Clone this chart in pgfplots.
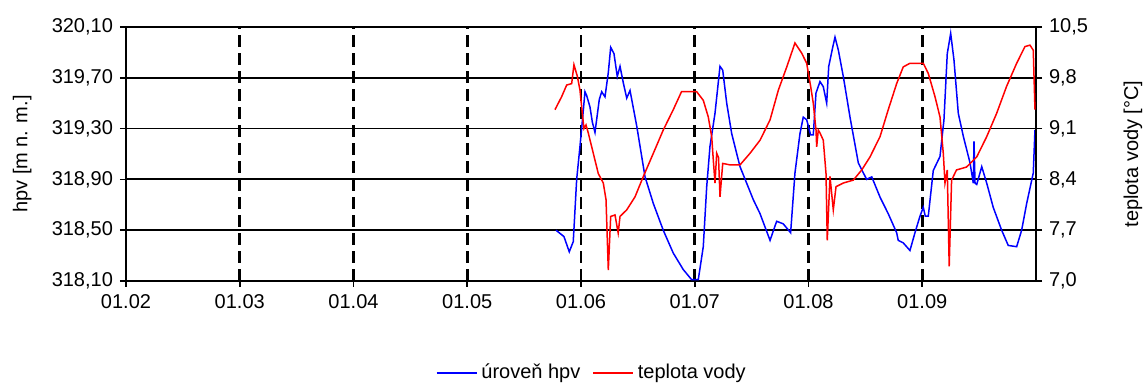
\documentclass[border=0pt]{standalone}
\usepackage{fontspec}
\setmainfont{Liberation Sans}
\usepackage{pgfplots}
\pgfplotsset{compat=1.18}

% groundwater level [m a.s.l.] vs. month index (0 = 01.02)
\pgfplotstableread{
m      h
3.780  318.50
3.850  318.45
3.897  318.33
3.932  318.41
3.962  318.90
3.991  319.16
4.015  319.39
4.035  319.59
4.050  319.56
4.079  319.47
4.100  319.35
4.123  319.27
4.161  319.53
4.182  319.59
4.211  319.55
4.240  319.74
4.261  319.94
4.290  319.89
4.319  319.71
4.343  319.79
4.372  319.66
4.402  319.54
4.431  319.60
4.490  319.32
4.563  318.92
4.636  318.71
4.723  318.50
4.811  318.32
4.899  318.19
4.973  318.11
5.031  318.11
5.075  318.37
5.105  318.84
5.134  319.16
5.178  319.42
5.222  319.79
5.246  319.76
5.281  319.50
5.325  319.26
5.398  319.00
5.515  318.74
5.574  318.63
5.662  318.42
5.720  318.57
5.778  318.55
5.843  318.48
5.881  318.95
5.925  319.26
5.954  319.39
5.984  319.37
6.019  319.25
6.042  319.25
6.066  319.58
6.101  319.67
6.130  319.63
6.160  319.50
6.178  319.79
6.213  319.94
6.233  320.02
6.262  319.92
6.306  319.71
6.365  319.39
6.438  319.03
6.511  318.90
6.556  318.92
6.629  318.76
6.701  318.63
6.775  318.48
6.789  318.42
6.833  318.40
6.892  318.34
6.936  318.48
6.980  318.61
7.009  318.68
7.027  318.61
7.053  318.61
7.097  318.97
7.156  319.08
7.191  319.37
7.220  319.89
7.250  320.05
7.279  319.84
7.317  319.42
7.361  319.24
7.420  319.03
7.449  318.87
7.455  319.20
7.464  318.87
7.479  318.86
7.523  319.00
7.567  318.87
7.624  318.68
7.698  318.50
7.756  318.38
7.830  318.37
7.874  318.50
7.918  318.71
7.976  318.95
7.991  319.29
}\hladina

% water temperature [deg C] vs. month index
\pgfplotstableread{
m      t
3.771  9.36
3.830  9.54
3.874  9.70
3.918  9.72
3.938  9.98
3.968  9.82
3.991  9.63
4.015  9.26
4.026  9.10
4.044  9.15
4.064  9.04
4.108  8.76
4.152  8.48
4.196  8.35
4.220  8.12
4.240  7.15
4.261  7.89
4.299  7.91
4.327  7.66
4.343  7.89
4.402  7.98
4.475  8.16
4.548  8.44
4.636  8.76
4.723  9.08
4.811  9.36
4.884  9.61
5.016  9.61
5.075  9.49
5.119  9.26
5.149  8.99
5.163  8.67
5.178  8.35
5.193  8.76
5.209  8.70
5.222  8.16
5.246  8.62
5.310  8.60
5.398  8.60
5.486  8.76
5.574  8.94
5.662  9.22
5.735  9.63
5.809  9.95
5.881  10.28
5.940  10.14
5.984  10.00
6.019  9.68
6.042  9.45
6.066  9.08
6.072  8.85
6.086  9.08
6.101  9.04
6.130  8.94
6.154  8.48
6.165  7.56
6.189  8.44
6.218  7.98
6.242  8.30
6.306  8.35
6.394  8.39
6.468  8.53
6.541  8.71
6.629  8.99
6.701  9.36
6.775  9.72
6.833  9.95
6.892  10.00
7.009  10.00
7.053  9.86
7.112  9.54
7.156  9.26
7.185  8.76
7.200  8.35
7.220  8.53
7.237  7.20
7.258  8.39
7.301  8.53
7.389  8.57
7.479  8.71
7.567  8.99
7.654  9.31
7.741  9.68
7.830  10.00
7.903  10.23
7.947  10.25
7.976  10.18
7.991  9.36
}\teplota

\pgfplotsset{
  every axis/.append style={
    scale only axis,
    width=455pt, height=127pt,
    xmin=0, xmax=8,
    tick align=outside,
    major tick length=3pt,
    tick style={black, line width=0.8pt},
    tick label style={font=\normalsize},
    label style={font=\normalsize},
    /pgf/number format/assume math mode=true,
  },
}

\begin{document}
\begin{tikzpicture}
% left axis: groundwater level, with the grid
\begin{axis}[
  ymin=318.10, ymax=320.10,
  ytick={318.10,318.50,318.90,319.30,319.70,320.10},
  xtick={0,1,...,7},
  xticklabels={01.02,01.03,01.04,01.05,01.06,01.07,01.08,01.09},
  xtick pos=bottom, ytick pos=left,
  axis line style={black, line width=0.9pt},
  yticklabel style={/pgf/number format/.cd, fixed, fixed zerofill, precision=2, use comma},
  xmajorgrids, ymajorgrids,
  x grid style={black, line width=1.3pt, dash pattern=on 6pt off 3pt},
  y grid style={black, line width=0.9pt},
  ylabel={hpv [m n. m.]},
  ylabel style={at={(axis description cs:-0.114,0.5)}, anchor=center, rotate=0},
]
\addplot[blue, line width=0.75pt] table[x=m, y=h] {\hladina};
\end{axis}

% right axis: water temperature
\begin{axis}[
  ymin=7, ymax=10.5,
  ytick={7.0,7.7,8.4,9.1,9.8,10.5},
  axis y line*=right, axis x line=none,
  axis line style={black, line width=0.9pt},
  yticklabel style={/pgf/number format/.cd, fixed, fixed zerofill, precision=1, use comma},
  ylabel={teplota vody [°C]},
  ylabel style={at={(axis description cs:1.1066,0.5)}, anchor=center, rotate=0},
  legend style={at={(0.513,-0.362)}, anchor=center, draw=none, fill=none,
    legend columns=2, font=\normalsize,
    /tikz/every even column/.append style={column sep=4pt}},
  legend image code/.code={\draw[#1] (0pt,0pt) -- (20pt,0pt);},
]
\addlegendimage{blue, line width=0.75pt}
\addlegendentry{úroveň hpv}
\addplot[red, line width=0.75pt] table[x=m, y=t] {\teplota};
\addlegendentry{teplota vody}
\end{axis}

\pgfresetboundingbox
\useasboundingbox (-63pt,-51pt) rectangle (510pt,140.5pt);
\end{tikzpicture}
\end{document}
